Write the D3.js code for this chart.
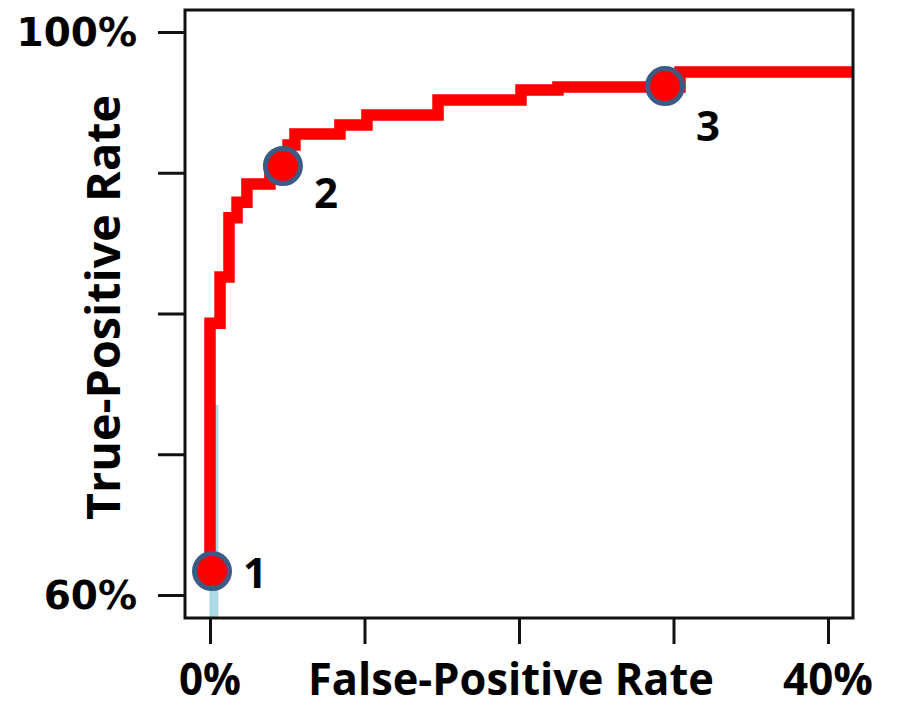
<!DOCTYPE html>
<html>
<head>
<meta charset="utf-8">
<script src="https://cdn.jsdelivr.net/npm/d3@7"></script>
<style>
  html, body { margin: 0; padding: 0; background: #fff; }
  svg { display: block; }
</style>
</head>
<body>
<div id="chart"></div>
<script>
// ---- data ----
const xTicks = [0, 10, 20, 30, 40];
const xTickLabels = ["0%", "", "", "", "40%"];
const yTicks = [60, 70, 80, 90, 100];
const yTickLabels = ["60%", "", "", "", "100%"];

// ROC step curve: [false-positive rate %, true-positive rate %]
const rocFPR = [0.0, 0.0, 0.65, 0.65, 1.23, 1.23, 1.75, 1.75, 2.39, 2.39, 3.88, 3.88, 5.05, 5.05, 5.50, 5.50, 8.41, 8.41, 10.16, 10.16, 14.76, 14.76, 20.13, 20.13, 22.52, 22.52, 30.42, 30.42, 41.6];
const rocTPR = [61.7, 79.3, 79.3, 82.6, 82.6, 86.8, 86.8, 87.9, 87.9, 89.2, 89.2, 90.48, 90.48, 91.97, 91.97, 92.75, 92.75, 93.39, 93.39, 94.10, 94.10, 95.17, 95.17, 95.88, 95.88, 96.09, 96.09, 97.16, 97.16];

// light-blue reference segment near x = 0
const refFPR = [0.25, 0.25];
const refTPR = [58.4, 73.5];

// highlighted operating points
const pointLabels = ["1", "2", "3"];
const pointFPR = [0.13, 4.72, 29.45];
const pointTPR = [61.7, 90.48, 96.16];
const labelDy = [17, 42, 55];

// ---- layout ----
const W = 897, H = 707;
const box = { left: 185, right: 853, top: 10, bottom: 618 };

const svg = d3.select("#chart").append("svg")
  .attr("width", W).attr("height", H);

const x = d3.scaleLinear().domain([0, 40]).range([210, 828]);
const y = d3.scaleLinear().domain([60, 100]).range([595, 32]);

svg.append("defs").append("clipPath").attr("id", "plotclip")
  .append("rect")
  .attr("x", box.left).attr("y", box.top)
  .attr("width", box.right - box.left).attr("height", box.bottom - box.top);

const plot = svg.append("g").attr("clip-path", "url(#plotclip)");

const line = d3.line().x(d => x(d[0])).y(d => y(d[1]));

// light-blue segment (behind)
plot.append("path")
  .datum(refFPR.map((v, i) => [v, refTPR[i]]))
  .attr("d", line)
  .attr("fill", "none")
  .attr("stroke", "#add8e6")
  .attr("stroke-width", 9);

// ROC curve
plot.append("path")
  .datum(rocFPR.map((v, i) => [v, rocTPR[i]]))
  .attr("d", line)
  .attr("fill", "none")
  .attr("stroke", "#ff0000")
  .attr("stroke-width", 11.5)
  .attr("stroke-linejoin", "miter");

// box
svg.append("rect")
  .attr("x", box.left).attr("y", box.top)
  .attr("width", box.right - box.left).attr("height", box.bottom - box.top)
  .attr("fill", "none").attr("stroke", "#111").attr("stroke-width", 3);

// axes (ticks only)
const xAxis = d3.axisBottom(x).tickValues(xTicks).tickSize(26).tickFormat("");
const gx = svg.append("g").attr("transform", `translate(0,${box.bottom})`).call(xAxis);
gx.select(".domain").remove();
gx.selectAll(".tick line").attr("stroke", "#111").attr("stroke-width", 3);

const yAxis = d3.axisLeft(y).tickValues(yTicks).tickSize(27).tickFormat("");
const gy = svg.append("g").attr("transform", `translate(${box.left},0)`).call(yAxis);
gy.select(".domain").remove();
gy.selectAll(".tick line").attr("stroke", "#111").attr("stroke-width", 3);

// tick labels
svg.append("g").selectAll("text")
  .data(xTicks.map((v, i) => ({ v, t: xTickLabels[i] })).filter(d => d.t))
  .join("text")
  .attr("x", d => x(d.v))
  .attr("y", 695)
  .attr("text-anchor", "middle")
  .attr("font-family", "'Open Sans', sans-serif")
  .attr("font-weight", "bold")
  .attr("font-size", 44)
  .attr("fill", "#000")
  .attr("textLength", d => d.t.length === 2 ? 62 : 90)
  .attr("lengthAdjust", "spacingAndGlyphs")
  .text(d => d.t);

svg.append("g").selectAll("text")
  .data(yTicks.map((v, i) => ({ v, t: yTickLabels[i] })).filter(d => d.t))
  .join("text")
  .attr("x", 137)
  .attr("y", d => y(d.v) + 14)
  .attr("text-anchor", "end")
  .attr("font-family", "'DejaVu Sans', sans-serif")
  .attr("font-weight", "bold")
  .attr("font-size", 39)
  .attr("fill", "#000")
  .text(d => d.t);

// axis titles
svg.append("text")
  .attr("x", 308).attr("y", 695)
  .attr("font-family", "'Open Sans', sans-serif")
  .attr("font-weight", "bold")
  .attr("font-size", 44)
  .attr("textLength", 406)
  .attr("lengthAdjust", "spacingAndGlyphs")
  .text("False-Positive Rate");

svg.append("text")
  .attr("transform", "translate(120,520) rotate(-90)")
  .attr("x", 0).attr("y", 0)
  .attr("font-family", "'Open Sans', sans-serif")
  .attr("font-weight", "bold")
  .attr("font-size", 46)
  .attr("textLength", 425)
  .attr("lengthAdjust", "spacingAndGlyphs")
  .text("True-Positive Rate");

// points
const pts = pointLabels.map((l, i) => ({ l, fx: pointFPR[i], ty: pointTPR[i], dy: labelDy[i] }));
svg.append("g").selectAll("circle")
  .data(pts).join("circle")
  .attr("cx", d => x(d.fx)).attr("cy", d => y(d.ty))
  .attr("r", 17.5)
  .attr("fill", "#ff0000")
  .attr("stroke", "#3d5a85")
  .attr("stroke-width", 5);

svg.append("g").selectAll("text")
  .data(pts).join("text")
  .attr("x", d => x(d.fx) + 31)
  .attr("y", d => y(d.ty) + d.dy)
  .attr("font-family", "'Open Sans', sans-serif")
  .attr("font-weight", "bold")
  .attr("font-size", 42)
  .attr("fill", "#000")
  .text(d => d.l);
</script>
</body>
</html>
